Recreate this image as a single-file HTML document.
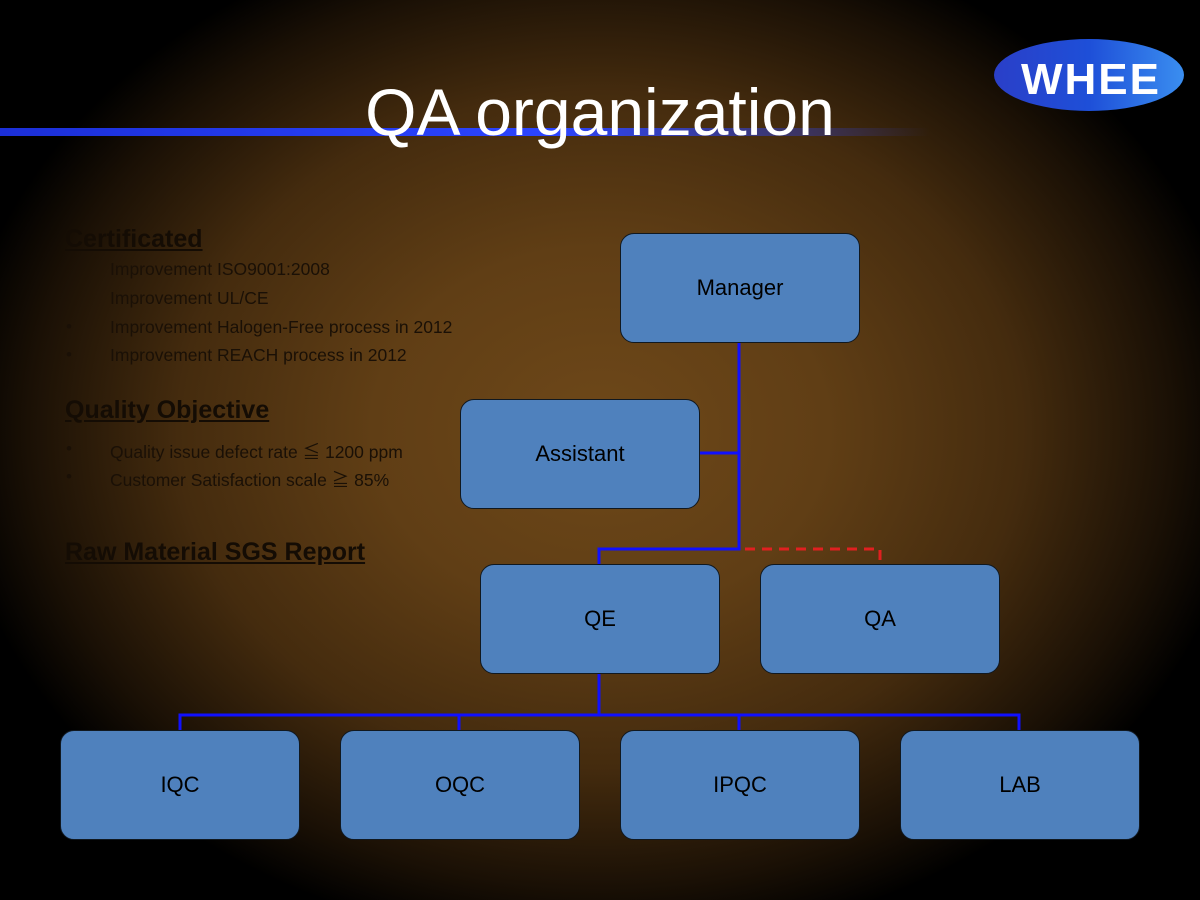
<!DOCTYPE html>
<html><head><meta charset="utf-8"><style>
html,body{margin:0;padding:0}
body{width:1200px;height:900px;position:relative;overflow:hidden;background:#000;font-family:"Liberation Sans","Noto Sans CJK JP",sans-serif}
.bg{position:absolute;inset:0;background:radial-gradient(ellipse 650px 520px at 600px 430px,#6e4819 0%,#603e15 35%,#442b0e 65%,#1a1005 88%,#000 100%)}
.title{position:absolute;left:0;width:1200px;top:72px;text-align:center;color:#fff;font-size:66px;line-height:80px}
.bar{position:absolute;left:0;top:128px;width:930px;height:8px;background:linear-gradient(90deg,#1b2fd8,#2c45ff 60%,rgba(40,60,255,0))}
.box{position:absolute;width:240px;height:110px;background:#4f81bd;border:1px solid #101820;border-radius:14px;box-sizing:border-box;display:flex;align-items:center;justify-content:center;font-size:22px;color:#000}
.t{position:absolute;left:110px;color:#1a1006;font-size:17.5px;white-space:nowrap}
.b{position:absolute;left:66px;color:#1a1006;font-size:17px}
.h{position:absolute;color:#140c04;font-size:25px;font-weight:bold;text-decoration:underline;white-space:nowrap}
</style></head><body>
<div class="bg"></div>
<div class="h" style="left:65px;top:225px">Certificated</div>
<div class="t" style="top:259px">Improvement ISO9001:2008</div>
<div class="t" style="top:288px">Improvement UL/CE</div>
<div class="b" style="top:317px">•</div><div class="t" style="top:317px">Improvement Halogen-Free process in 2012</div>
<div class="b" style="top:345px">•</div><div class="t" style="top:345px">Improvement REACH process in 2012</div>
<div class="h" style="left:65px;top:396px">Quality Objective</div>
<div class="b" style="top:439px">•</div><div class="t" style="top:439px">Quality issue defect rate ≦ 1200 ppm</div>
<div class="b" style="top:467px">•</div><div class="t" style="top:467px">Customer Satisfaction scale ≧ 85%</div>
<div class="h" style="left:65px;top:538px">Raw Material SGS Report</div>
<div class="bar"></div>
<div class="title">QA organization</div>
<svg style="position:absolute;left:993px;top:38px" width="192" height="74" viewBox="0 0 192 74">
<defs><linearGradient id="g" x1="0" x2="1"><stop offset="0" stop-color="#2a3fc8"/><stop offset="0.5" stop-color="#1e4fd8"/><stop offset="1" stop-color="#3a8ef0"/></linearGradient></defs>
<ellipse cx="96" cy="37" rx="95" ry="36" fill="url(#g)"/>
<text x="98" y="56" text-anchor="middle" fill="#fff" font-size="44" font-weight="bold" font-family="Liberation Sans,sans-serif" letter-spacing="2">WHEE</text>
</svg>
<svg style="position:absolute;left:0;top:0" width="1200" height="900">
<g stroke="#1010ff" stroke-width="3" fill="none">
<path d="M739 343V549H599V564"/>
<path d="M700 453H739"/>
<path d="M599 674V715M180 730V715H1019V730M459 715V730M739 715V730"/>
</g>
<path d="M745 549H880V564" stroke="#e02020" stroke-width="3" fill="none" stroke-dasharray="10,7"/>
</svg>
<div class="box" style="left:620px;top:233px">Manager</div>
<div class="box" style="left:460px;top:399px">Assistant</div>
<div class="box" style="left:480px;top:564px">QE</div>
<div class="box" style="left:760px;top:564px">QA</div>
<div class="box" style="left:60px;top:730px">IQC</div>
<div class="box" style="left:340px;top:730px">OQC</div>
<div class="box" style="left:620px;top:730px">IPQC</div>
<div class="box" style="left:900px;top:730px">LAB</div>
</body></html>
